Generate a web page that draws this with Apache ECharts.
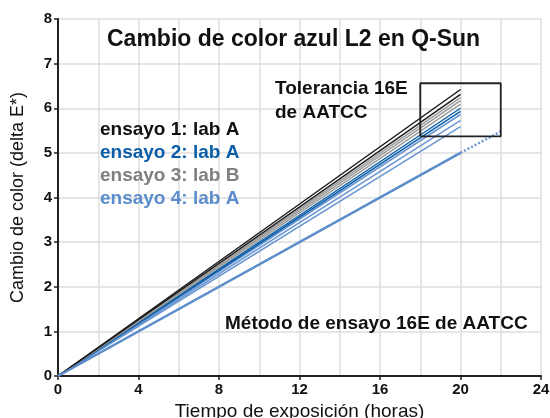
<!DOCTYPE html>
<html>
<head>
<meta charset="utf-8">
<script src="https://cdn.jsdelivr.net/npm/echarts@6/dist/echarts.min.js"></script>
<style>
  html, body { margin: 0; padding: 0; background: #fff; }
  #chart { width: 550px; height: 418px; }
</style>
</head>
<body>
<div id="chart"></div>
<script>
// horas de exposición (inicio y fin de cada recta)
const horas = [0, 20];
// delta E* a las 20 h de cada repetición
const ensayo1 = [6.42, 6.31];
const ensayo2 = [6.00, 5.93];
const ensayo3 = [6.24, 6.17, 6.09];
const ensayo4 = [5.86, 5.73, 5.59];
// método 16E y su extrapolación punteada
const metodoHoras = [0, 20];
const metodoValores = [0, 5.0];
const extraHoras = [20, 22];
const extraValores = [5.0, 5.48];
// caja de tolerancia
const cajaX = [18, 22, 22, 18, 18];
const cajaY = [5.37, 5.37, 6.56, 6.56, 5.37];
const xTicks = [0, 4, 8, 12, 16, 20, 24];
const yTicks = [0, 1, 2, 3, 4, 5, 6, 7, 8];

const font = '"Liberation Sans", Arial, Helvetica, sans-serif';

function rectas(finales, color, width) {
  return finales.map(v => ({
    type: 'line',
    data: [[horas[0], 0], [horas[1], v]],
    showSymbol: false,
    lineStyle: { color: color, width: width },
    z: 3,
  }));
}

const chart = echarts.init(document.getElementById('chart'));
chart.setOption({
  animation: false,
  backgroundColor: '#fff',
  grid: { left: 58, right: 9, top: 19, bottom: 42, containLabel: false, outerBoundsMode: 'none' },
  xAxis: {
    type: 'value',
    min: xTicks[0],
    max: xTicks[xTicks.length - 1],
    interval: 4,
    name: 'Tiempo de exposición (horas)',
    nameLocation: 'middle',
    nameGap: 22,
    nameTextStyle: { fontFamily: font, fontSize: 19, color: '#111' },
    axisLine: { lineStyle: { color: '#222', width: 2 } },
    axisTick: { show: true, length: 4, lineStyle: { color: '#222', width: 1.5 } },
    axisLabel: { fontFamily: font, fontSize: 15, fontWeight: 'bold', color: '#111', margin: 6 },
    splitLine: { show: true, lineStyle: { color: '#dedede', width: 1.5 } },
    minorTick: { show: false, splitNumber: 2 },
    minorSplitLine: { show: true, lineStyle: { color: '#dedede', width: 1.5 } },
  },
  yAxis: {
    type: 'value',
    min: yTicks[0],
    max: yTicks[yTicks.length - 1],
    interval: 1,
    name: 'Cambio de color (delta E*)',
    nameLocation: 'middle',
    nameGap: 31,
    nameTextStyle: { fontFamily: font, fontSize: 18, color: '#111' },
    axisLine: { show: true, lineStyle: { color: '#222', width: 2 } },
    axisTick: { show: true, length: 4, lineStyle: { color: '#222', width: 1.5 } },
    axisLabel: { fontFamily: font, fontSize: 15, fontWeight: 'bold', color: '#111', margin: 6 },
    splitLine: { show: true, lineStyle: { color: '#dedede', width: 1.5 } },
  },
  graphic: [
    { type: 'text', left: 107, top: 28, style: { text: 'Cambio de color azul L2 en Q-Sun', font: 'bold 23px ' + font, fill: '#111' }, z: 10 },
    { type: 'text', left: 275, top: 77, style: { text: 'Tolerancia 16E\nde AATCC', font: 'bold 19px ' + font, lineHeight: 24, fill: '#111' }, z: 10 },
    { type: 'text', left: 100, top: 120, style: { text: 'ensayo 1: lab A', font: 'bold 19px ' + font, fill: '#111' }, z: 10 },
    { type: 'text', left: 100, top: 143, style: { text: 'ensayo 2: lab A', font: 'bold 19px ' + font, fill: '#0b5ea8' }, z: 10 },
    { type: 'text', left: 100, top: 166, style: { text: 'ensayo 3: lab B', font: 'bold 19px ' + font, fill: '#7f7f7f' }, z: 10 },
    { type: 'text', left: 100, top: 189, style: { text: 'ensayo 4: lab A', font: 'bold 19px ' + font, fill: '#5b8ccc' }, z: 10 },
    { type: 'text', left: 225, top: 314, style: { text: 'Método de ensayo 16E de AATCC', font: 'bold 19px ' + font, fill: '#111' }, z: 10 },
  ],
  series: [].concat(
    rectas(ensayo4, '#6a96d2', 1.5),
    rectas(ensayo2, '#0b5ea8', 1.5),
    rectas(ensayo3, '#9a9a9a', 1.5),
    rectas(ensayo1, '#1a1a1a', 1.5),
    [{
      type: 'line',
      data: metodoHoras.map((h, i) => [h, metodoValores[i]]),
      showSymbol: false,
      lineStyle: { color: '#5b8ccc', width: 2.5 },
      z: 3,
    }, {
      type: 'line',
      data: extraHoras.map((h, i) => [h, extraValores[i]]),
      showSymbol: false,
      lineStyle: { color: '#6a96d2', width: 2.5, type: [2, 2] },
      z: 3,
    }, {
      type: 'line',
      data: cajaX.map((x, i) => [x, cajaY[i]]),
      showSymbol: false,
      lineStyle: { color: '#222', width: 1.8 },
      z: 4,
    }]
  ),
});
</script>
</body>
</html>
